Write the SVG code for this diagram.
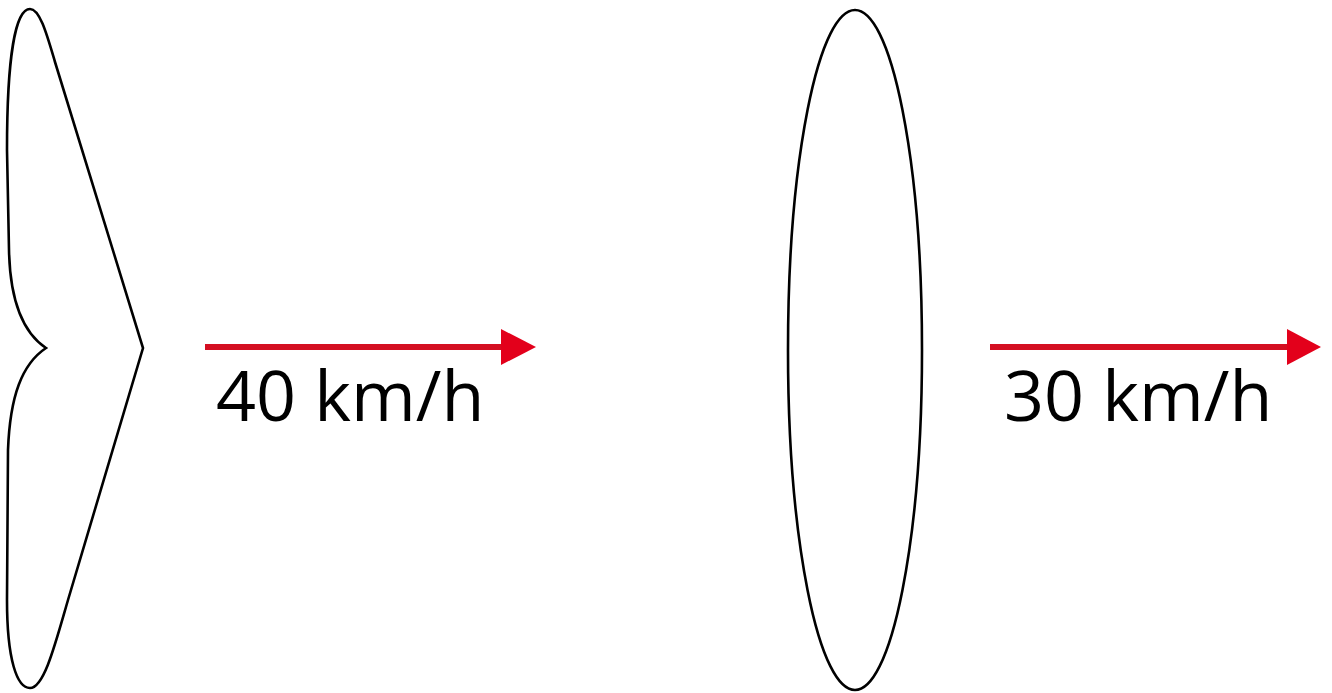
<svg xmlns="http://www.w3.org/2000/svg" width="1332" height="693" viewBox="0 0 1332 693">
<style>
.shape{fill:none;stroke:#000;stroke-width:2.6}
.arrow{stroke:#d40f22;stroke-width:6;fill:none}
.head{fill:#e3001b}
.lbl{font-family:"Open Sans","DejaVu Sans",sans-serif;font-size:70px;fill:#000}
</style>
<rect width="1332" height="693" fill="#fff"/>
<g id="wave-front">
<path class="shape" d="M 30 9 C 15 9 7 60 7 150 L 9 250 C 10 300 22 332 46 348 C 22 364 10 396 8 450 L 7 600 C 7 660 17 688 30 688 C 44 688 55 645 68 600 L 143 348 L 55 62 C 47 35 40 9 30 9 Z"/>
</g>
<g id="ellipse">
<ellipse class="shape" cx="855" cy="350" rx="67" ry="340"/>
</g>
<g id="connectors">
<line class="arrow" x1="205" y1="347" x2="503" y2="347"/>
<polygon class="head" points="501,329 536,347 501,365"/>
<line class="arrow" x1="990" y1="347" x2="1290" y2="347"/>
<polygon class="head" points="1287,329 1321,347 1287,365"/>
</g>
<g id="labels">
<text class="lbl" x="216" y="421">40 km/h</text>
<text class="lbl" x="1004" y="421">30 km/h</text>
</g>
</svg>
